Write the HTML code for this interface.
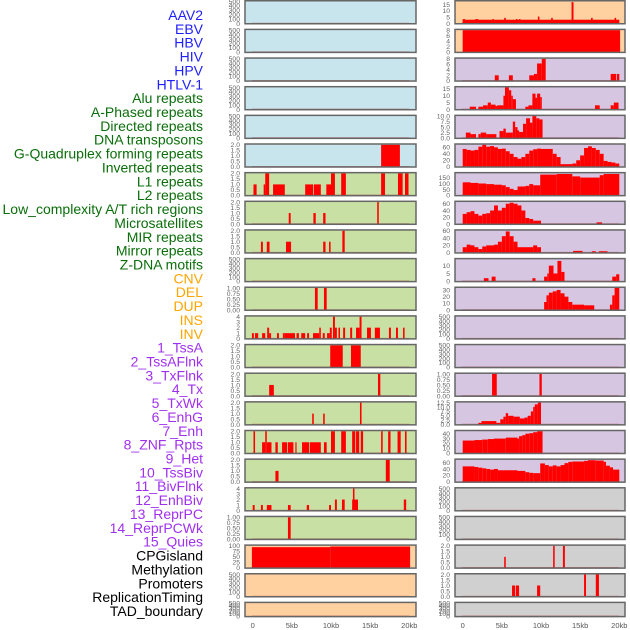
<!DOCTYPE html>
<html><head><meta charset="utf-8"><style>
html,body{margin:0;padding:0;background:#fff;width:630px;height:630px;overflow:hidden}
svg{display:block;font-family:"Liberation Sans",sans-serif}
</style></head><body>
<svg id="chart" width="630" height="630" viewBox="0 0 630 630" xmlns="http://www.w3.org/2000/svg"></svg>
<script>
const trackLabels = ["AAV2","EBV","HBV","HIV","HPV","HTLV-1","Alu repeats","A-Phased repeats","Directed repeats","DNA transposons","G-Quadruplex forming repeats","Inverted repeats","L1 repeats","L2 repeats","Low_complexity A/T rich regions","Microsatellites","MIR repeats","Mirror repeats","Z-DNA motifs","CNV","DEL","DUP","INS","INV","1_TssA","2_TssAFlnk","3_TxFlnk","4_Tx","5_TxWk","6_EnhG","7_Enh","8_ZNF_Rpts","9_Het","10_TssBiv","11_BivFlnk","12_EnhBiv","13_ReprPC","14_ReprPCWk","15_Quies","CPGisland","Methylation","Promoters","ReplicationTiming","TAD_boundary"];
const labelGroups = [6,13,5,15,5];
const groupColors = ["#1f1fff","#0a6e0a","#ffa500","#a030f0","#000000"];
const xTickVals = [0,5,10,15,20];
const xTickText = ["0","5kb","10kb","15kb","20kb"];

const E=[0,100,200,300,400,500], ET=["0","100","200","300","400","500"];
const leftBg = ["#c8e4ec","#c8e4ec","#c8e4ec","#c8e4ec","#c8e4ec","#c8e4ec","#c8e0a4","#c8e0a4","#c8e0a4","#c8e0a4","#c8e0a4","#c8e0a4","#c8e0a4","#c8e0a4","#c8e0a4","#c8e0a4","#c8e0a4","#c8e0a4","#c8e0a4","#ffd0a0","#ffd0a0","#ffd0a0"];
const rightBg = ["#ffd0a0","#ffd0a0","#d6c6e2","#d6c6e2","#d6c6e2","#d6c6e2","#d6c6e2","#d6c6e2","#d6c6e2","#d6c6e2","#d6c6e2","#d6c6e2","#d6c6e2","#d6c6e2","#d6c6e2","#d6c6e2","#d6c6e2","#d0d0d0","#d0d0d0","#d0d0d0","#d0d0d0","#d0d0d0"];

const t2 = [0,0.5,1,1.5,2], t2T=["0.0","0.5","1.0","1.5","2.0"];
const t1 = [0,0.25,0.5,0.75,1], t1T=["0.00","0.25","0.50","0.75","1.00"];
const t4 = [0,1,2,3,4], t4T=["0","1","2","3","4"];
const leftTicks = [E,E,E,E,E,t2,t2,t2,t2,E,t1,t4,t2,t2,t2,t2,t2,t4,t1,[0,25,50,75,100],E,E];
const leftTickText = [ET,ET,ET,ET,ET,t2T,t2T,t2T,t2T,ET,t1T,t4T,t2T,t2T,t2T,t2T,t2T,t4T,t1T,["0","25","50","75","100"],ET,ET];
const leftMax = [500,500,500,500,500,2,2,2,2,500,1,4,2,2,2,2,2,4,1,100,500,500];

const rightTicks = [[0,5,10,15],[0,2,4,6,8],[0,2,4,6,8],[0,5,10,15],[0,2.5,5,7.5,10],[0,20,40,60],[0,50,100,150],[0,20,40,60],[0,20,40,60],[0,5,10],[0,10,20,30],E,E,t1,[0,2.5,5,7.5,10,12.5],[0,10,20,30,40],[0,20,40,60],E,E,t2,t2,E];
const rightTickText = [["0","5","10","15"],["0","2","4","6","8"],["0","2","4","6","8"],["0","5","10","15"],["0.0","2.5","5.0","7.5","10.0"],["0","20","40","60"],["0","50","100","150"],["0","20","40","60"],["0","20","40","60"],["0","5","10"],["0","10","20","30"],ET,ET,t1T,["0.0","2.5","5.0","7.5","10.0","12.5"],["0","10","20","30","40"],["0","20","40","60"],ET,ET,t2T,t2T,ET];
const rightMax = [17.5,8,8,16,10,68,185,65,60,14,33,500,500,1,12.5,45,68,500,500,2,2,500];

const leftSegs = [[],[],[],[],[],
[[16.4,18.8,2]],
[[0.1,0.5,1],[1.4,1.6,1],[1.6,2.1,2],[2.6,4.1,1],[6.7,7.7,1],[7.8,8.7,1],[9.4,10.0,1],[10.0,10.5,2],[11.3,11.9,2],[16.4,16.9,2],[18.55,19.15,2],[19.45,19.9,2]],
[[4.6,4.85,1],[7.75,8.05,1],[9.0,9.3,1],[15.9,16.1,2]],
[[1.05,1.3,1],[1.8,2.15,1],[4.25,4.9,1],[9.0,9.3,1],[9.75,9.95,1],[11.45,11.75,2]],
[],
[[7.95,8.3,1],[9.1,9.45,1]],
[[-0.1,0.15,1],[0.3,0.7,1],[1.2,1.6,1],[1.85,2.1,2],[2.1,2.35,1],[3.1,3.35,1],[3.85,4.1,1],[4.1,5.4,1],[5.6,5.9,1],[6.2,6.7,1],[6.95,7.2,1],[7.7,8.5,1],[8.5,8.7,2],[8.95,9.2,1],[9.5,9.85,1],[9.85,10.1,2],[10.25,10.5,4],[10.5,10.75,2],[10.95,11.15,2],[11.55,11.8,2],[12.45,12.7,2],[13.2,13.65,2],[13.65,13.9,4],[14.6,15.1,2],[15.6,16.25,2],[17.4,17.65,2],[18.3,18.55,2],[19.2,19.4,2]],
[[9.9,11.5,2],[12.55,13.8,2]],
[[2.1,2.7,1],[16.0,16.3,2]],
[[7.6,7.8,1],[9.0,9.2,1],[13.7,13.9,2]],
[[0.1,0.3,2],[1.2,1.6,1],[1.6,1.8,2],[1.8,2.4,1],[2.9,3.2,1],[3.75,4.4,1],[4.5,5.2,1],[5.45,5.6,1],[6.3,7.2,1],[7.3,8.7,1],[9.1,9.45,1],[10.0,10.5,2],[11.3,11.9,2],[12.7,13.1,2],[13.2,13.6,2],[13.8,14.1,2],[16.4,16.6,2],[17.3,17.6,2],[18.5,18.9,2],[19.45,19.65,2]],
[[2.9,3.3,1],[17.0,17.5,2]],
[[0,0.25,1],[1.05,1.3,1],[1.8,2.4,1],[4.5,4.85,1],[6.9,7.2,1],[9.75,10.0,1],[10.5,10.75,2],[11.4,11.75,2],[12.7,12.8,2],[12.8,13.0,4],[13.0,13.45,2],[19.3,19.6,2]],
[[4.5,4.85,1]],
[[-0.1,9.9,94],[9.9,20.1,97]],
[],[]];

const rightSegs = [
[[0,20,3],[0.0,0.3,3.5],[1.6,2.0,3.5],[3.8,4.0,3.5],[5.3,5.5,4.5],[6.8,7.0,3.5],[7.2,7.4,3.5],[9.6,9.8,5.5],[11.3,11.5,4.5],[13.9,14.15,17],[16.4,16.6,4.5],[19.4,19.6,4.5]],
[[0,20.1,8]],
[[4.1,4.6,2],[5.9,6.4,2],[8.5,9.1,2],[9.1,9.5,2.5],[9.5,10.1,6.3],[10.1,10.6,8],[18.9,19.6,2.5],[19.7,20.0,2.5]],
[[0.9,1.7,2],[2.0,2.6,2],[2.6,3.2,3],[3.2,3.6,5],[3.6,4.2,3.5],[4.2,4.4,2.5],[4.4,5.2,3],[5.2,5.4,10],[5.4,5.9,16],[5.9,6.2,14],[6.2,6.4,10],[6.4,6.8,7.5],[8.0,8.4,2],[8.4,8.9,3],[8.9,9.3,11.5],[9.3,9.5,8.5],[9.5,9.9,11.5],[9.9,10.1,9],[16.9,17.5,3],[18.9,19.3,3],[19.3,19.9,5]],
[[0.4,1.0,2.5],[1.0,1.7,1.8],[2.0,2.3,1.8],[2.3,3.0,2.5],[3.0,4.3,1.8],[4.7,5.2,3.2],[5.2,5.5,4.3],[5.5,6.4,2.5],[6.4,6.7,7.5],[6.7,7.0,5],[7.0,7.2,3.5],[7.2,7.7,2.8],[7.7,8.1,6.5],[8.1,8.6,9],[8.6,8.9,7],[8.9,9.4,10],[9.4,9.8,9],[9.8,10.2,8.5]],
[[0,0.5,55],[0.5,1,52],[1,1.5,50],[1.5,2,52],[2,2.5,62],[2.5,3,68],[3,3.5,62],[3.5,4,64],[4,4.5,60],[4.5,5,55],[5,5.5,56],[5.5,6,48],[6,6.5,40],[6.5,7,30],[7,7.5,25],[7.5,8,30],[8,8.5,40],[8.5,9,50],[9,9.5,54],[9.5,10,56],[10,11.5,55],[11.5,12,40],[12,12.5,30],[12.5,14,8],[14,14.5,10],[14.5,15,20],[15,15.5,35],[15.5,16,58],[16,16.5,63],[16.5,17,58],[17,17.5,52],[17.5,18,40],[18,18.5,18],[18.5,19,15],[19,19.5,13],[19.5,20,10]],
[[0,1,110],[1,2,105],[2,3,100],[3,4,95],[4,5,90],[5,5.5,85],[5.5,6,70],[6,6.5,55],[6.5,7,45],[7,8,75],[8,8.5,80],[8.5,9,95],[9,9.9,85],[9.9,12,175],[12,14,180],[14,15,160],[15,17.5,150],[17.5,18,170],[18,20,180]],
[[0,0.5,30],[0.5,1,35],[1,1.5,38],[1.5,2,30],[2,2.5,25],[2.5,3,30],[3,3.5,32],[3.5,4,40],[4,4.5,55],[4.5,5,40],[5,5.5,48],[5.5,6,60],[6,6.5,63],[6.5,7,60],[7,7.5,55],[7.5,8,40],[8,8.5,18],[8.5,9,15],[9,10,10],[17.1,17.8,5]],
[[0,0.5,15],[0.5,1,22],[1,1.5,20],[1.5,2,15],[2,2.5,10],[2.5,3,17],[3,4,20],[4,4.5,22],[4.5,5,30],[5,5.5,45],[5.5,6,58],[6,6.5,45],[6.5,7,30],[7,9,15],[9,9.5,20],[9.5,10,15],[14.1,15.3,5],[16.5,17,4],[17.4,18.5,4]],
[[2.7,3.3,2],[3.7,4.2,3],[8.9,9.3,2],[10.4,10.8,3],[10.8,11,5],[11,11.6,10],[11.6,12.1,5],[12.1,12.6,13],[12.6,13,6],[19.1,19.6,3],[19.6,20,4.5]],
[[10.4,10.7,12],[10.7,11,22],[11,11.5,26],[11.5,12,28],[12,12.5,30],[12.5,13,25],[13,13.5,20],[13.5,14,12],[14,15.5,8],[15.5,16.8,7],[18.8,19.1,8],[19.1,19.4,22],[19.4,20,33]],
[],[],
[[3.75,4.35,1],[9.8,10.1,1]],
[[2.0,2.4,1],[2.4,4.3,2],[4.3,4.8,1],[4.8,5.2,3],[5.2,5.5,4.5],[5.5,5.8,6.5],[5.8,6.5,5],[6.5,7.3,4.5],[7.3,7.9,3.5],[7.9,8.3,4],[8.3,8.7,5],[8.7,9.0,7.5],[9.0,9.2,10],[9.2,9.6,11.5],[9.6,10.0,12.5]],
[[0,1.5,26],[1.5,2.5,27],[2.5,3.2,28],[3.2,4,29],[4,5.5,30],[5.5,7,32],[7,7.2,30],[7.2,7.6,35],[7.6,8,37],[8,8.5,40],[8.5,9,41],[9,9.5,43],[9.5,10.2,45]],
[[0,1.5,48],[1.5,2,46],[2,2.5,44],[2.5,3,42],[3,3.5,40],[3.5,4,38],[4,4.5,40],[4.5,7,36],[7,8,34],[8,8.5,30],[8.5,9,28],[9,9.9,27],[9.9,10.5,57],[10.5,11,52],[11,11.5,48],[11.5,12,51],[12,12.5,48],[12.5,13,52],[13,13.5,58],[13.5,14,62],[14,15.5,63],[15.5,16,65],[16,17,67],[17,18,66],[18,18.3,62],[18.3,18.8,50],[18.8,19.2,45],[19.2,20,38]],
[],[],
[[5.3,5.5,1],[11.55,11.75,2],[12.8,13.05,2]],
[[6.3,6.7,1],[6.8,7.2,1],[9.5,9.9,1],[15.5,15.75,2],[17.0,17.4,2]],
[]];

const NS="http://www.w3.org/2000/svg";
const svg=document.getElementById('chart');
function mk(tag,attrs,parent){const e=document.createElementNS(NS,tag);for(const k in attrs)e.setAttribute(k,attrs[k]);(parent||svg).appendChild(e);return e;}
const rowTop=i=>i*28.65;
const rowH=i=>i===21?15.7:24.5;
const KB=7.83;
const xScale=(x0,kb)=>x0+KB*kb;
function yScale(i,v,max){const b=rowTop(i)+rowH(i)-1;return b-(v/max)*(rowH(i)-2.5);}

const lg=mk('g',{});


let gi=0,cnt=0;
trackLabels.forEach((t,k)=>{
  while(cnt>=labelGroups[gi]){cnt-=labelGroups[gi];gi++;}
  const el=mk('text',{x:203,y:15+k*13.86+5,'text-anchor':'end','font-size':'14',fill:groupColors[gi]},lg);
  el.textContent=t;
  
  
  cnt++;
});

function panel(i,side){
  const px=side==='left'?245:455, pw=side==='left'?171:170, x0=side==='left'?252.7:462.7;
  const bg=side==='left'?leftBg[i]:rightBg[i];
  const segs=side==='left'?leftSegs[i]:rightSegs[i];
  const ticks=side==='left'?leftTicks[i]:rightTicks[i];
  const ttext=side==='left'?leftTickText[i]:rightTickText[i];
  const max=side==='left'?leftMax[i]:rightMax[i];
  const g=mk('g',{});
  
  
  const top=rowTop(i),h=rowH(i);
  mk('rect',{x:px,y:top+0.75,width:pw,height:h-1.5,fill:bg},g);
  const b0=yScale(i,0,max);
  mk('line',{x1:xScale(x0,-0.1),x2:xScale(x0,20),y1:b0,y2:b0,stroke:'rgba(190,60,60,0.55)','stroke-width':1.6},g);
  segs.forEach(s=>{
    const xa=xScale(x0,s[0]),xb=xScale(x0,s[1]),y=yScale(i,s[2],max);
    const r=mk('rect',{x:xa,y:y,width:Math.max(xb-xa,1),height:b0-y+0.6,fill:'#ff0000'},g);
    
    
  });
  mk('rect',{x:px,y:top+0.75,width:pw,height:h-1.5,fill:'none',stroke:'#666','stroke-width':1.5},g);
  ticks.forEach((tv,k)=>{
    const tt=mk('text',{x:px-5,y:yScale(i,tv,max)+2.3,'text-anchor':'end','font-size':'6.8',fill:'#666'},g);
    tt.textContent=ttext[k];
    
    
  });
}
for(let i=0;i<22;i++){panel(i,'left');panel(i,'right');}

[[252.7,'left'],[462.7,'right']].forEach(([x0,side])=>{
  xTickVals.forEach((v,k)=>{
    const t=mk('text',{x:xScale(x0,v),y:628,'text-anchor':'middle','font-size':'7.5',fill:'#555'});
    t.textContent=xTickText[k];
    
    
  });
});
</script>
</body></html>
